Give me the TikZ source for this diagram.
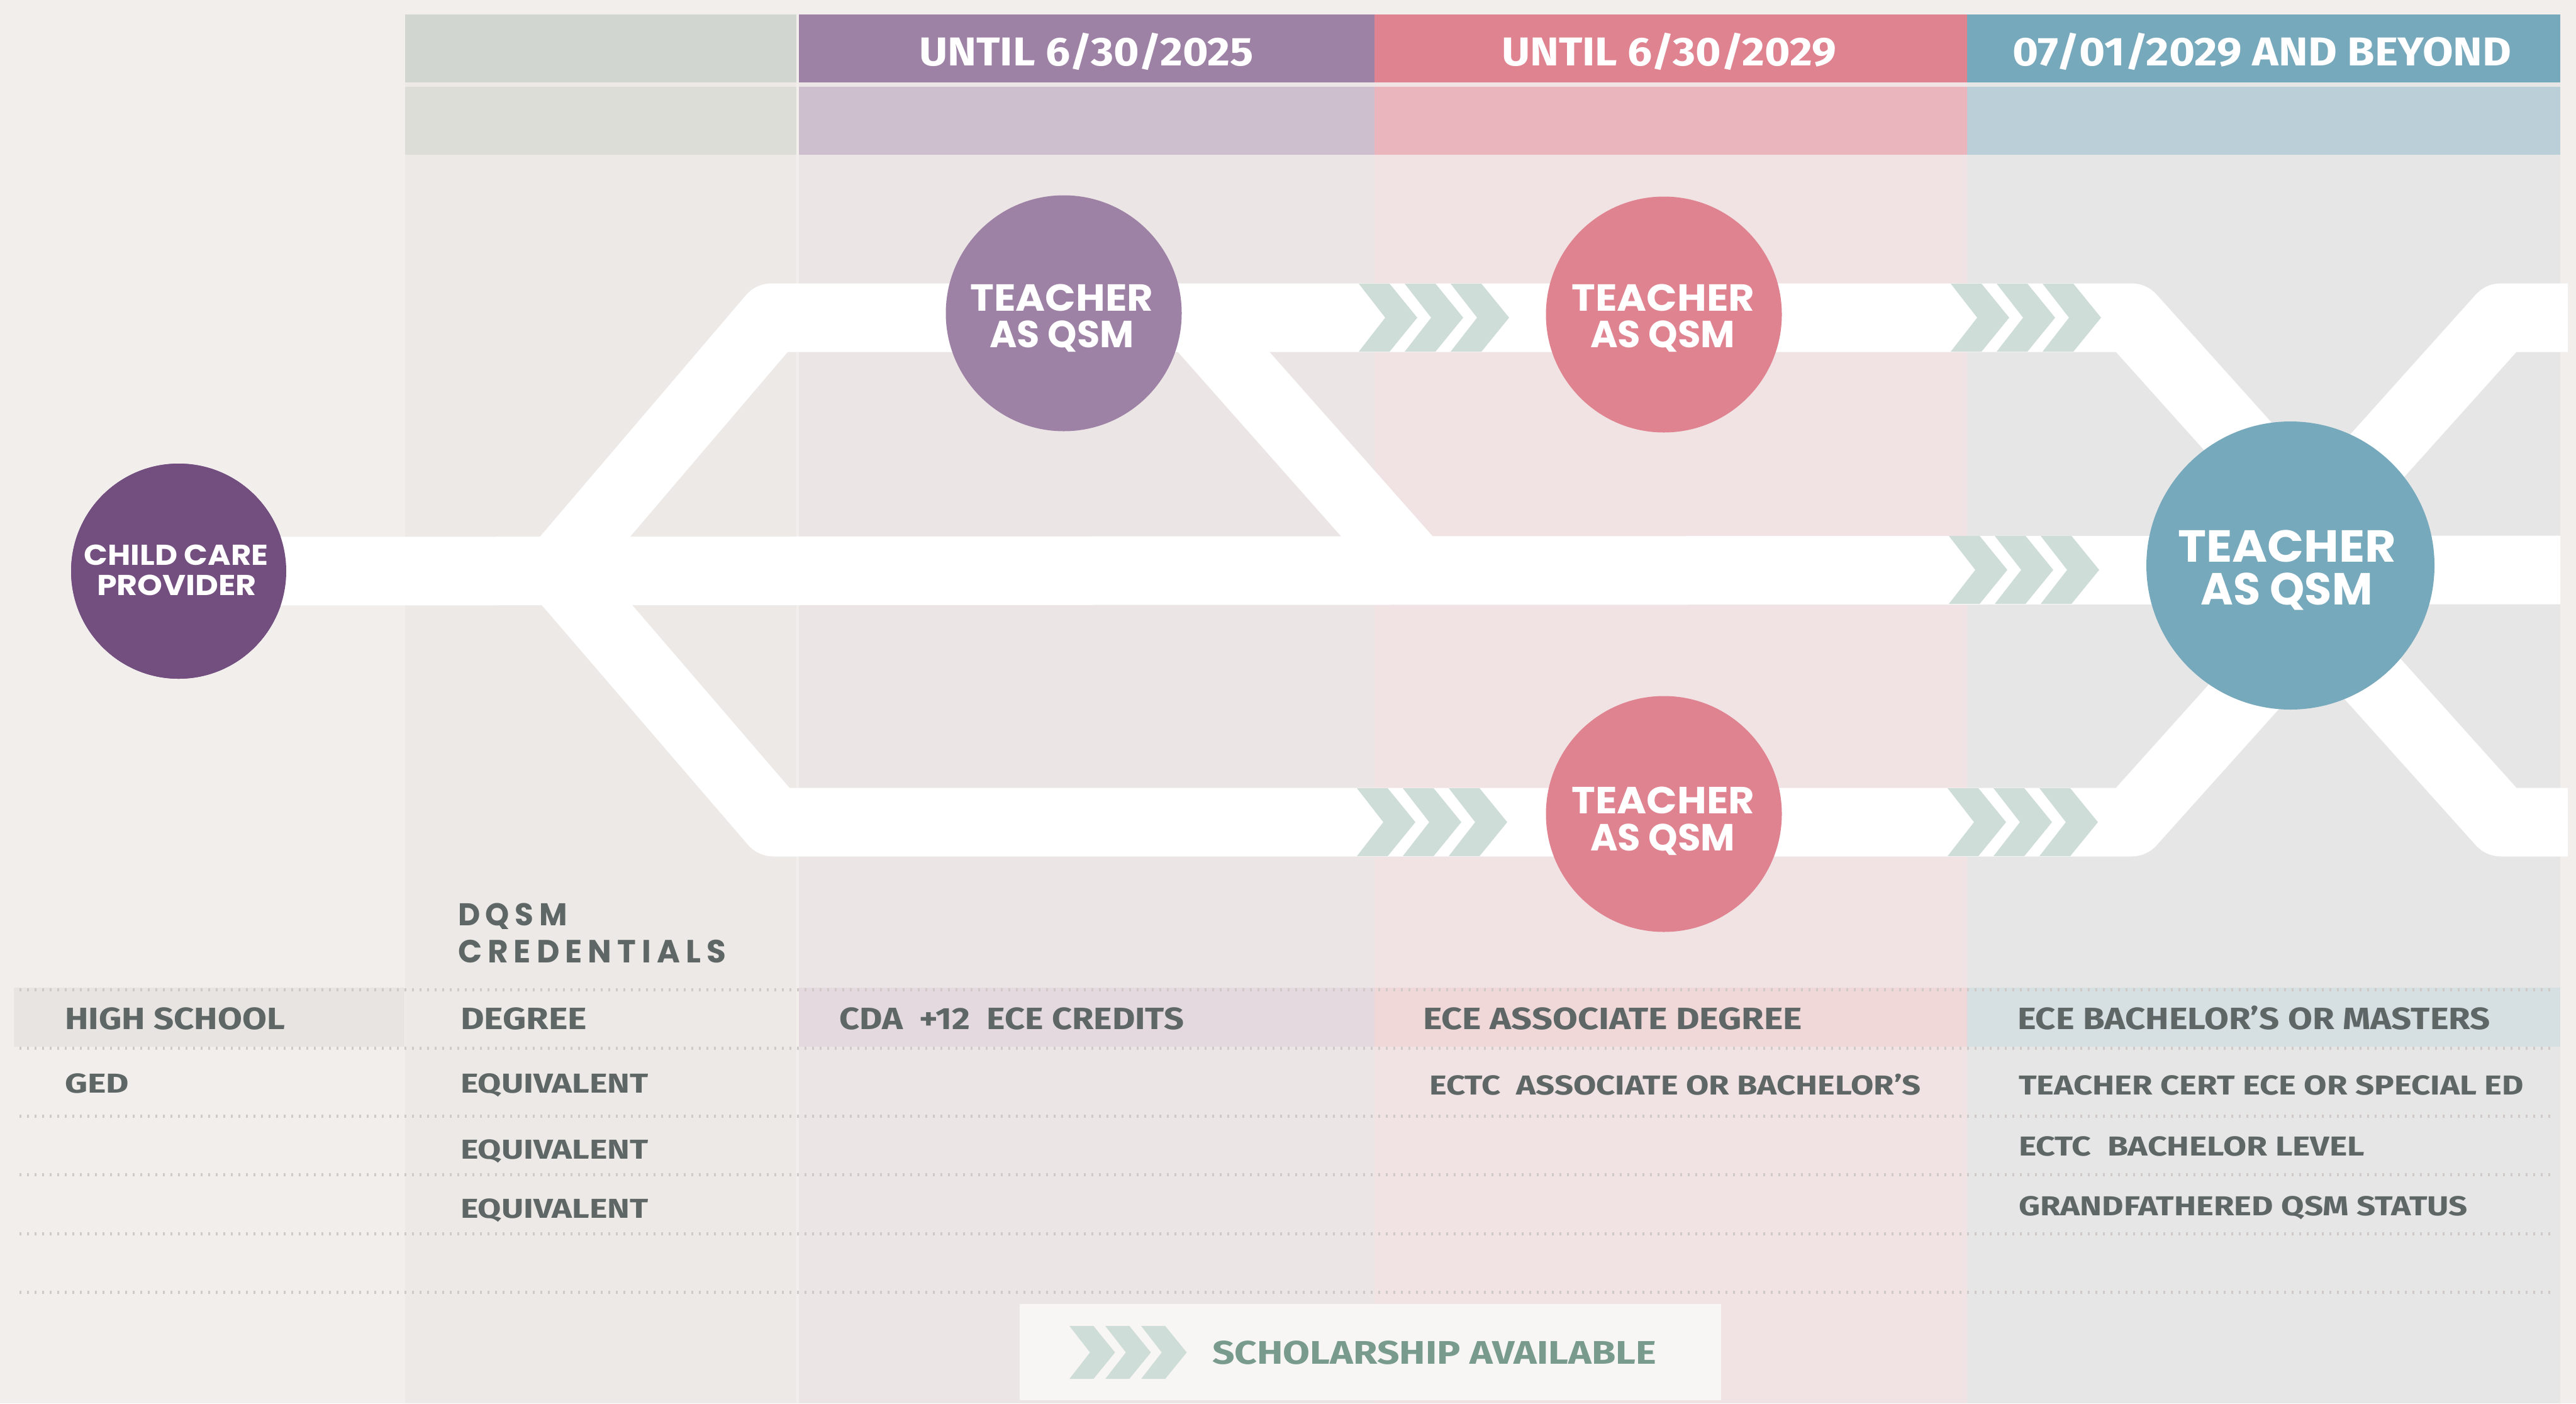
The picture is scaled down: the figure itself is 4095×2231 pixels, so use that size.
\documentclass[tikz,border=0pt]{standalone}
\usepackage{fontspec}
\usepackage{graphicx}
\setmainfont{Fira Sans}
\newfontfamily\firaf{Fira Sans}
\newfontfamily\popf{Poppins}
\newfontfamily\popls{Poppins}[LetterSpace=18]
\definecolor{bgc}{HTML}{F2EEEB}
\definecolor{cbodyA}{HTML}{EDE9E6}
\definecolor{cbodyB}{HTML}{ECE5E6}
\definecolor{cbodyC}{HTML}{F1E3E3}
\definecolor{cbodyD}{HTML}{E6E6E6}
\definecolor{hAa}{HTML}{D2D6D0}\definecolor{hAb}{HTML}{DDDDD8}
\definecolor{hBa}{HTML}{9D82A5}\definecolor{hBb}{HTML}{CEBFCE}
\definecolor{hCa}{HTML}{E08391}\definecolor{hCb}{HTML}{EAB5BD}
\definecolor{hDa}{HTML}{77A9BC}\definecolor{hDb}{HTML}{BACFD7}
\definecolor{rowA}{HTML}{E7E4E1}\definecolor{rowB}{HTML}{E3D9DF}
\definecolor{rowC}{HTML}{F0D8D9}\definecolor{rowD}{HTML}{D6DFE2}
\definecolor{dotc}{HTML}{CFC9C7}
\definecolor{txtc}{HTML}{5E6766}
\definecolor{chevc}{HTML}{CFDDD8}
\definecolor{grnc}{HTML}{789B8E}
\definecolor{childc}{HTML}{734F80}
\definecolor{legbg}{HTML}{F8F6F5}
\newsavebox\fitsb
\newlength\fitl
\newcommand\fitw[2]{\sbox\fitsb{#2}\setlength\fitl{\wd\fitsb}\pgfmathsetmacro\fitr{#1/\fitl}\scalebox{\fitr}[1]{\usebox\fitsb}}
\newcommand\hfont{\firaf\bfseries\fontsize{64}{64}\selectfont}
\newcommand\tfontA{\firaf\bfseries\fontsize{49}{49}\selectfont}
\newcommand\tfontB{\firaf\bfseries\fontsize{43.5}{43.5}\selectfont}
\newcommand\cfont[1]{\popf\bfseries\fontsize{#1}{#1}\selectfont}
\tikzset{
  lbl/.style={inner sep=0pt, outer sep=0pt, anchor=base west, text=txtc},
  clbl/.style={inner sep=0pt, outer sep=0pt, anchor=base, text=white},
  band/.style={draw=white, line width=109pt, line join=round, line cap=butt},
  dotline/.style={draw=dotc, line width=5pt, dash pattern=on 3pt off 9pt},
  qsm/.style={circle, inner sep=0pt, minimum size=375pt},
  chevron/.pic={\fill[chevc] (0,-54) -- (49,-54) -- (93,0) -- (49,54) -- (0,54) -- (42,0) -- cycle;}
}
\begin{document}
\begin{tikzpicture}[x=1pt,y=-1pt]
\useasboundingbox (0,0) rectangle (4095,2231);
\fill[bgc] (0,0) rectangle (4095,2231);
% column bodies
\fill[cbodyA] (644,23) rectangle (1266,2231);
\fill[cbodyB] (1270,23) rectangle (2185,2231);
\fill[cbodyC] (2185,23) rectangle (3127,2231);
\fill[cbodyD] (3127,23) rectangle (4070,2231);
% headers
\fill[hAa] (644,23) rectangle (1266,131);  \fill[hAb] (644,138) rectangle (1266,246);
\fill[hBa] (1270,23) rectangle (2185,131); \fill[hBb] (1270,138) rectangle (2185,246);
\fill[hCa] (2185,23) rectangle (3127,131); \fill[hCb] (2185,138) rectangle (3127,246);
\fill[hDa] (3127,23) rectangle (4070,131); \fill[hDb] (3127,138) rectangle (4070,246);
\node[clbl] (hd2) at (1727,104) {\hfont\fitw{532}{UNTIL 6/30/2025}};
\node[clbl] (hd3) at (2653,104) {\hfont\fitw{532}{UNTIL 6/30/2029}};
\node[clbl] (hd4) at (3596,104) {\hfont\fitw{793}{07/01/2029 AND BEYOND}};
% highlighted row
\fill[rowA] (22,1570) rectangle (643,1664);
\fill[rowB] (1270,1570) rectangle (2185,1664);
\fill[rowC] (2185,1570) rectangle (3127,1664);
\fill[rowD] (3127,1570) rectangle (4070,1664);
% dotted rules
\foreach \yy in {1573,1666,1774,1867,1961,2054}
  \draw[dotline] (31,\yy) -- (4062,\yy);
% bands
\coordinate (split) at (885,906);
\coordinate (tl) at (1227,505);
\coordinate (bl) at (1230,1307);
\coordinate (tr) at (3388,505);
\coordinate (br) at (3388,1307);
\coordinate (xa) at (3748,906);
\coordinate (xb) at (3616,906);
\coordinate (trr) at (3976,505);
\coordinate (brr) at (3976,1307);
\coordinate (tend) at (4082,505);
\coordinate (bend) at (4082,1307);
\coordinate (mend) at (4070,906);
\coordinate (pd1) at (1897,505);
\coordinate (pd2) at (2252,906);
\node[qsm, fill=childc, minimum size=342pt] (child) at (284,908) {};
\draw[band] (child.center) -- (mend);
\draw[band] (split) -- (tl) -- (tr) -- (xa);
\draw[band] (split) -- (bl) -- (br) -- (xa);
\draw[band] (pd1) -- (pd2);
\draw[band] (tend) -- (trr) -- (xb);
\draw[band] (bend) -- (brr) -- (xb);
% chevrons
\foreach \i in {0,1,2} {
  \pic at ({2160+73*\i},505) {chevron};
  \pic at ({3101+73*\i},505) {chevron};
  \pic at ({3098+73*\i},906) {chevron};
  \pic at ({2157+73*\i},1307) {chevron};
  \pic at ({3096+73*\i},1307) {chevron};
}
% circles
\node[qsm, fill=childc, minimum size=342pt] (childtop) at (284,908) {};
\node[qsm, fill=hBa] (tqa) at (1691,498) {};
\node[qsm, fill=hCa] (tqb) at (2645,500) {};
\node[qsm, fill=hCa] (tqc) at (2645,1294) {};
\node[qsm, fill=hDa, minimum size=458pt] (tqd) at (3641,899) {};
\node[clbl] (chA) at (280,898) {\cfont{45.7}\fitw{293}{CHILD CARE}};
\node[clbl] (chB) at (281,946) {\cfont{45.7}\fitw{254}{PROVIDER}};
\node[clbl] (taA) at (1688,494) {\cfont{60}\fitw{291}{TEACHER}};
\node[clbl] (taB) at (1688,552) {\cfont{60}\fitw{229}{AS QSM}};
\node[clbl] (tbA) at (2644,494) {\cfont{60}\fitw{291}{TEACHER}};
\node[clbl] (tbB) at (2643,552) {\cfont{60}\fitw{230}{AS QSM}};
\node[clbl] (tcA) at (2644,1293) {\cfont{60}\fitw{291}{TEACHER}};
\node[clbl] (tcB) at (2643,1352) {\cfont{60}\fitw{230}{AS QSM}};
\node[clbl] (tdA) at (3636,893) {\cfont{71.4}\fitw{347}{TEACHER}};
\node[clbl] (tdB) at (3635,961) {\cfont{71.4}\fitw{273}{AS QSM}};
% credentials heading
\node[lbl] (dq1) at (728,1471) {\popls\bfseries\fontsize{50}{50}\selectfont\fitw{174}{DQSM}};
\node[lbl] (dq2) at (728,1530) {\popls\bfseries\fontsize{51}{51}\selectfont\fitw{426}{CREDENTIALS}};
% table row 1
\node[lbl] (r1a) at (103,1636) {\tfontA\fitw{350}{HIGH SCHOOL}};
\node[lbl] (r1b) at (732,1636) {\tfontA\fitw{201}{DEGREE}};
\node[lbl] (r1c) at (1334,1636) {\tfontA\fitw{548}{CDA\ \ +12\ \ ECE CREDITS}};
\node[lbl] (r1d) at (2262,1636) {\tfontA\fitw{603}{ECE ASSOCIATE DEGREE}};
\node[lbl] (r1e) at (3207,1636) {\tfontA\fitw{752}{ECE BACHELOR’S OR MASTERS}};
% rows 2-4
\node[lbl] (r2a) at (103,1737) {\tfontB\fitw{102}{GED}};
\node[lbl] (r2b) at (732,1737) {\tfontB\fitw{299}{EQUIVALENT}};
\node[lbl] (r2d) at (2272,1740) {\tfontB\fitw{782}{ECTC\ \ ASSOCIATE OR BACHELOR’S}};
\node[lbl] (r2e) at (3209,1740) {\tfontB\fitw{803}{TEACHER CERT ECE OR SPECIAL ED}};
\node[lbl] (r3b) at (732,1842) {\tfontB\fitw{299}{EQUIVALENT}};
\node[lbl] (r3e) at (3209,1837) {\tfontB\fitw{550}{ECTC\ \ BACHELOR LEVEL}};
\node[lbl] (r4b) at (732,1936) {\tfontB\fitw{299}{EQUIVALENT}};
\node[lbl] (r4e) at (3209,1932) {\tfontB\fitw{714}{GRANDFATHERED QSM STATUS}};
% legend
\node[fill=legbg, inner sep=0pt, minimum width=1115pt, minimum height=153pt, anchor=north west] (legend) at (1621,2073) {};
\foreach \i in {0,1,2}
  \pic[scale=0.78] at ({1700+57*\i},2150) {chevron};
\node[lbl, text=grnc] (legtxt) at (1927,2168) {\firaf\bfseries\fontsize{52}{52}\selectfont\fitw{706}{SCHOLARSHIP AVAILABLE}};
\end{tikzpicture}
\end{document}
